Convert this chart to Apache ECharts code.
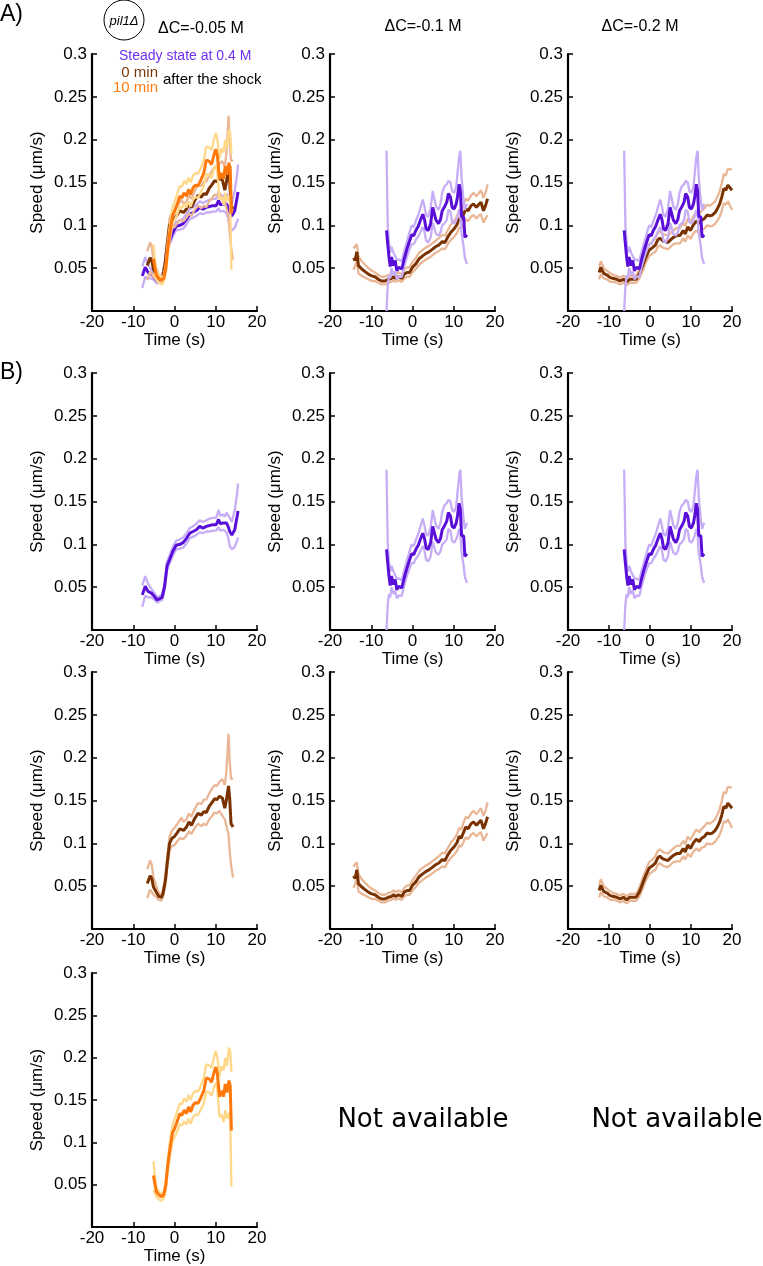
<!DOCTYPE html>
<html>
<head>
<meta charset="utf-8">
<script src="https://cdn.jsdelivr.net/npm/echarts@6/dist/echarts.min.js"></script>
<style>
html,body{margin:0;padding:0;background:#fff;}
#chart{width:763px;height:1266px;}
</style>
</head>
<body>
<div id="chart"></div>
<script>
// ---------- DATA ----------
// Purple: steady state at 0.4 M, ΔC=-0.05 M
const p05Time  = [-7.8,-7.1,-6.4,-5.6,-5.0,-4.2,-3.8,-3.0,-2.4,-1.8,-1.2,-0.4,0.4,1.3,2.1,2.9,3.7,4.5,5.3,6.1,6.9,7.7,8.5,9.3,10.1,10.7,11.1,11.8,12.2,12.6,13.0,13.4,13.9,14.6,15.2,15.4];
const p05Mean  = [0.041,0.051,0.045,0.043,0.040,0.035,0.034,0.038,0.051,0.075,0.082,0.092,0.099,0.100,0.102,0.107,0.113,0.115,0.117,0.121,0.119,0.121,0.122,0.123,0.123,0.129,0.124,0.125,0.123,0.125,0.121,0.115,0.111,0.117,0.133,0.139];
const p05Upper = [0.052,0.063,0.054,0.048,0.044,0.038,0.036,0.041,0.055,0.080,0.087,0.097,0.104,0.106,0.108,0.113,0.119,0.121,0.124,0.128,0.126,0.128,0.130,0.131,0.131,0.140,0.133,0.135,0.132,0.137,0.135,0.131,0.126,0.140,0.160,0.171];
const p05Lower = [0.027,0.040,0.038,0.038,0.036,0.032,0.032,0.035,0.047,0.070,0.078,0.087,0.094,0.095,0.096,0.101,0.107,0.109,0.111,0.114,0.113,0.115,0.115,0.116,0.116,0.120,0.116,0.117,0.115,0.114,0.108,0.098,0.094,0.097,0.105,0.108];

// Brown: 0 min after the shock, ΔC=-0.05 M
const b05Time  = [-6.6,-6.2,-5.9,-5.5,-5.1,-4.4,-3.8,-3.2,-2.8,-2.2,-1.7,-1.2,-0.6,0.0,0.6,1.3,1.7,2.2,2.9,3.5,4.1,4.9,5.7,6.5,7.1,7.7,8.4,9.0,9.7,10.3,10.9,11.6,12.2,12.6,13.1,13.4,13.7,14.2];
const b05Mean  = [0.053,0.051,0.062,0.059,0.049,0.043,0.038,0.037,0.041,0.057,0.080,0.100,0.106,0.108,0.112,0.117,0.119,0.115,0.119,0.125,0.121,0.129,0.135,0.133,0.137,0.136,0.143,0.147,0.152,0.151,0.155,0.153,0.141,0.151,0.167,0.151,0.123,0.119];
const b05Upper = [0.070,0.068,0.080,0.075,0.060,0.050,0.042,0.040,0.045,0.062,0.087,0.108,0.115,0.118,0.122,0.127,0.130,0.125,0.128,0.135,0.131,0.140,0.147,0.146,0.151,0.151,0.158,0.163,0.168,0.167,0.172,0.175,0.168,0.185,0.228,0.195,0.175,0.176];
const b05Lower = [0.036,0.038,0.046,0.044,0.040,0.037,0.034,0.033,0.037,0.052,0.073,0.092,0.097,0.098,0.102,0.106,0.108,0.105,0.109,0.114,0.111,0.118,0.123,0.120,0.123,0.121,0.128,0.131,0.136,0.135,0.138,0.132,0.128,0.120,0.110,0.090,0.075,0.060];

// Orange: 10 min after the shock, ΔC=-0.05 M
const o05Time  = [-5.1,-4.8,-4.4,-3.8,-3.1,-2.6,-2.1,-1.7,-1.2,-0.5,0.0,0.6,1.3,1.8,2.3,2.9,3.4,3.9,4.5,5.1,5.7,6.3,7.1,7.7,8.4,9.0,9.6,10.0,10.4,10.9,11.4,11.9,12.3,12.7,13.2,13.5,13.8];
const o05Mean  = [0.061,0.052,0.042,0.038,0.036,0.038,0.050,0.070,0.089,0.111,0.116,0.124,0.134,0.132,0.138,0.134,0.142,0.136,0.144,0.147,0.146,0.152,0.161,0.176,0.175,0.171,0.183,0.189,0.181,0.154,0.161,0.154,0.169,0.159,0.173,0.167,0.114];
const o05Upper = [0.078,0.062,0.047,0.042,0.039,0.042,0.055,0.077,0.097,0.121,0.127,0.136,0.146,0.145,0.152,0.148,0.156,0.150,0.158,0.161,0.160,0.166,0.176,0.192,0.191,0.188,0.201,0.208,0.200,0.178,0.190,0.185,0.200,0.190,0.212,0.208,0.183];
const o05Lower = [0.044,0.042,0.036,0.033,0.031,0.034,0.045,0.063,0.081,0.101,0.106,0.112,0.122,0.120,0.125,0.121,0.128,0.122,0.130,0.133,0.132,0.138,0.146,0.160,0.159,0.155,0.166,0.170,0.162,0.130,0.133,0.124,0.138,0.128,0.135,0.125,0.048];

// Purple: steady state, ΔC=-0.1 M and ΔC=-0.2 M (same trace)
const p10Time  = [-6.3,-6.0,-5.7,-5.4,-5.1,-4.6,-4.2,-3.8,-3.3,-2.6,-2.0,-1.3,-0.7,-0.2,0.3,0.8,1.4,2.0,2.5,2.9,3.3,3.8,4.4,4.9,5.3,5.7,6.3,6.8,7.2,7.7,8.3,8.7,9.2,9.6,10.1,10.6,10.9,11.3,11.6,11.9,12.4,12.7,13.2];
const p10Mean  = [0.094,0.078,0.063,0.052,0.063,0.053,0.059,0.047,0.051,0.049,0.061,0.073,0.082,0.089,0.088,0.094,0.099,0.107,0.113,0.107,0.096,0.094,0.102,0.121,0.120,0.106,0.102,0.107,0.117,0.121,0.127,0.137,0.133,0.121,0.119,0.125,0.133,0.148,0.141,0.110,0.110,0.086,0.089];
const p10Upper = [0.187,0.100,0.080,0.068,0.075,0.068,0.070,0.060,0.060,0.058,0.070,0.082,0.092,0.100,0.098,0.105,0.112,0.122,0.130,0.122,0.112,0.110,0.120,0.140,0.138,0.122,0.118,0.125,0.138,0.145,0.148,0.152,0.150,0.140,0.138,0.145,0.160,0.180,0.187,0.155,0.128,0.118,0.125];
const p10Lower = [0.000,0.030,0.042,0.038,0.050,0.042,0.046,0.037,0.040,0.040,0.052,0.064,0.072,0.078,0.078,0.083,0.087,0.093,0.098,0.093,0.082,0.080,0.086,0.103,0.102,0.090,0.088,0.092,0.100,0.102,0.106,0.118,0.116,0.104,0.102,0.106,0.110,0.118,0.112,0.090,0.075,0.062,0.055];

// Brown: 0 min after the shock, ΔC=-0.1 M
const b10Time  = [-14.3,-13.9,-13.5,-13.1,-12.3,-11.5,-10.7,-9.9,-9.1,-8.3,-7.5,-6.7,-5.9,-5.1,-4.6,-4.1,-3.4,-2.6,-2.0,-1.3,-0.7,0.0,0.8,1.6,2.4,3.2,4.0,4.8,5.6,6.4,7.2,7.9,8.5,9.3,10.1,10.8,11.3,11.8,12.3,12.9,13.5,14.2,14.8,15.5,16.0,16.6,17.2,17.7,18.2];
const b10Mean  = [0.062,0.059,0.069,0.053,0.049,0.046,0.043,0.041,0.040,0.037,0.035,0.035,0.037,0.038,0.040,0.038,0.040,0.038,0.043,0.045,0.045,0.051,0.055,0.061,0.064,0.067,0.069,0.072,0.075,0.077,0.081,0.080,0.086,0.092,0.096,0.101,0.108,0.106,0.112,0.119,0.117,0.123,0.125,0.121,0.124,0.127,0.117,0.123,0.131];
const b10Upper = [0.073,0.072,0.078,0.064,0.058,0.054,0.050,0.047,0.045,0.042,0.040,0.040,0.042,0.043,0.045,0.043,0.045,0.043,0.048,0.051,0.051,0.057,0.062,0.068,0.071,0.074,0.076,0.079,0.082,0.085,0.089,0.088,0.094,0.101,0.105,0.111,0.118,0.116,0.123,0.131,0.129,0.135,0.138,0.134,0.137,0.141,0.132,0.138,0.148];
const b10Lower = [0.048,0.046,0.058,0.044,0.041,0.039,0.037,0.035,0.035,0.033,0.031,0.031,0.033,0.034,0.036,0.034,0.036,0.034,0.038,0.040,0.040,0.045,0.049,0.054,0.057,0.060,0.062,0.065,0.068,0.070,0.073,0.072,0.078,0.083,0.087,0.091,0.098,0.096,0.101,0.107,0.105,0.110,0.112,0.108,0.111,0.113,0.103,0.108,0.112];

// Brown: 0 min after the shock, ΔC=-0.2 M
const b20Time  = [-12.4,-12.0,-11.3,-10.5,-9.7,-8.9,-8.1,-7.3,-6.5,-5.7,-4.9,-4.2,-3.4,-2.6,-1.8,-1.0,-0.2,0.6,1.3,1.9,2.4,3.1,3.7,4.4,5.0,5.7,6.5,7.3,8.1,8.6,9.2,9.9,10.5,11.3,12.0,12.6,13.3,13.9,14.6,15.2,15.9,16.5,17.0,17.5,18.0,18.5,19.0,19.4,20.0];
const b20Mean  = [0.045,0.051,0.044,0.042,0.039,0.038,0.037,0.035,0.037,0.034,0.037,0.037,0.037,0.043,0.053,0.063,0.071,0.074,0.077,0.083,0.085,0.082,0.081,0.080,0.083,0.086,0.088,0.088,0.094,0.090,0.098,0.094,0.100,0.105,0.102,0.106,0.108,0.112,0.111,0.112,0.115,0.120,0.125,0.133,0.143,0.141,0.147,0.145,0.141];
const b20Upper = [0.052,0.058,0.050,0.047,0.044,0.042,0.041,0.039,0.041,0.038,0.041,0.041,0.041,0.048,0.059,0.069,0.078,0.081,0.085,0.091,0.093,0.090,0.089,0.088,0.091,0.094,0.097,0.097,0.103,0.099,0.108,0.104,0.110,0.116,0.113,0.117,0.120,0.124,0.123,0.125,0.128,0.134,0.140,0.149,0.160,0.158,0.166,0.164,0.165];
const b20Lower = [0.037,0.043,0.038,0.037,0.034,0.034,0.033,0.031,0.033,0.030,0.033,0.033,0.033,0.038,0.047,0.057,0.064,0.067,0.069,0.075,0.077,0.074,0.073,0.072,0.075,0.078,0.079,0.079,0.085,0.081,0.088,0.084,0.090,0.094,0.091,0.095,0.096,0.100,0.099,0.099,0.102,0.106,0.110,0.117,0.126,0.124,0.128,0.124,0.118];

const panelTitles = ['ΔC=-0.05 M','ΔC=-0.1 M','ΔC=-0.2 M'];
const xTicks = {min:-20, max:20, step:10};
const yTicks = {min:0, max:0.3, step:0.05};

// ---------- STYLE / LAYOUT ----------
const FONT = '"Liberation Sans", Arial, sans-serif';
const COL = {
  purple: {dark:'#5a0fd8', light:'#c6adf6'},
  brown:  {dark:'#7a3300', light:'#e9b796'},
  orange: {dark:'#ff780c', light:'#ffd88a'}
};
const conds = {
  P05:{t:p05Time,m:p05Mean,u:p05Upper,l:p05Lower,c:COL.purple},
  B05:{t:b05Time,m:b05Mean,u:b05Upper,l:b05Lower,c:COL.brown},
  O05:{t:o05Time,m:o05Mean,u:o05Upper,l:o05Lower,c:COL.orange},
  P10:{t:p10Time,m:p10Mean,u:p10Upper,l:p10Lower,c:COL.purple},
  B10:{t:b10Time,m:b10Mean,u:b10Upper,l:b10Lower,c:COL.brown},
  B20:{t:b20Time,m:b20Mean,u:b20Upper,l:b20Lower,c:COL.brown}
};
const colX = [92, 330, 568];
const colW = [165, 165, 164];
const rowY = [54, 373, 672, 973];
const PH = 257;
const panels = [
  {r:0,c:0,s:['P05','B05','O05']},
  {r:0,c:1,s:['B10','P10']},
  {r:0,c:2,s:['B20','P10']},
  {r:1,c:0,s:['P05']},
  {r:1,c:1,s:['P10']},
  {r:1,c:2,s:['P10']},
  {r:2,c:0,s:['B05']},
  {r:2,c:1,s:['B10']},
  {r:2,c:2,s:['B20']},
  {r:3,c:0,s:['O05']}
];

const zip = (t, v) => t.map((x, i) => [x, v[i]]);
const axisText = {color:'#000', fontSize:17, fontFamily:FONT};

const grids = [], xAxes = [], yAxes = [], series = [];
panels.forEach((p, i) => {
  grids.push({left:colX[p.c], top:rowY[p.r], width:colW[p.c], height:PH});
  xAxes.push({
    gridIndex:i, type:'value', min:xTicks.min, max:xTicks.max, interval:xTicks.step,
    name:'Time (s)', nameLocation:'middle', nameGap:20, nameTextStyle:axisText,
    axisLine:{onZero:false, lineStyle:{color:'#000', width:2.2}},
    axisTick:{inside:true, length:5, lineStyle:{color:'#000', width:1.5}},
    axisLabel:Object.assign({margin:3}, axisText),
    splitLine:{show:false}
  });
  yAxes.push({
    gridIndex:i, type:'value', min:yTicks.min, max:yTicks.max, interval:yTicks.step,
    name:'Speed (μm/s)', nameLocation:'middle', nameGap:46, nameTextStyle:axisText,
    axisLine:{onZero:false, lineStyle:{color:'#000', width:2.2}},
    axisTick:{inside:true, length:5, lineStyle:{color:'#000', width:1.5}},
    axisLabel:Object.assign({margin:5, formatter:v => v === 0 ? '' : String(+v.toFixed(2))}, axisText),
    splitLine:{show:false}
  });
  p.s.forEach(key => {
    const d = conds[key];
    [['u', d.c.light, 2.3], ['l', d.c.light, 2.3], ['m', d.c.dark, 3]].forEach(([k, col, w]) => {
      series.push({
        type:'line', xAxisIndex:i, yAxisIndex:i, data:zip(d.t, d[k]),
        showSymbol:false, symbol:'none', silent:true,
        lineStyle:{color:col, width:w}, clip:true
      });
    });
  });
});

const graphics = [
  {type:'text', left:0, top:3, style:{text:'A)', font:'23px ' + FONT, fill:'#000'}},
  {type:'text', left:0, top:361, style:{text:'B)', font:'23px ' + FONT, fill:'#000'}},
  {type:'circle', shape:{cx:124, cy:20, r:20}, style:{fill:'#fff', stroke:'#000', lineWidth:1}},
  {type:'text', x:124, y:21, style:{text:'pil1Δ', font:'italic 13px ' + FONT, fill:'#000', align:'center', verticalAlign:'middle'}},
  {type:'text', x:201, y:29, style:{text:panelTitles[0], font:'16px ' + FONT, fill:'#000', align:'center', verticalAlign:'middle'}},
  {type:'text', x:423, y:27, style:{text:panelTitles[1], font:'16px ' + FONT, fill:'#000', align:'center', verticalAlign:'middle'}},
  {type:'text', x:640, y:27, style:{text:panelTitles[2], font:'16px ' + FONT, fill:'#000', align:'center', verticalAlign:'middle'}},
  {type:'text', x:119, y:56, style:{text:'Steady state at 0.4 M', font:'14px ' + FONT, fill:'#7030ef', align:'left', verticalAlign:'middle'}},
  {type:'text', x:158, y:73, style:{text:'0 min', font:'15px ' + FONT, fill:'#7a3a0c', align:'right', verticalAlign:'middle'}},
  {type:'text', x:158, y:88, style:{text:'10 min', font:'15px ' + FONT, fill:'#ff7a0e', align:'right', verticalAlign:'middle'}},
  {type:'text', x:163, y:80, style:{text:'after the shock', font:'15px ' + FONT, fill:'#000', align:'left', verticalAlign:'middle'}},
  {type:'text', x:423, y:1120, style:{text:'Not available', font:'26px "DejaVu Sans", sans-serif', fill:'#000', align:'center', verticalAlign:'middle'}},
  {type:'text', x:677, y:1120, style:{text:'Not available', font:'26px "DejaVu Sans", sans-serif', fill:'#000', align:'center', verticalAlign:'middle'}}
];

const chart = echarts.init(document.getElementById('chart'), null, {renderer:'canvas'});
chart.setOption({
  animation:false,
  backgroundColor:'#fff',
  grid:grids, xAxis:xAxes, yAxis:yAxes, series:series,
  graphic:graphics
});
</script>
</body>
</html>
